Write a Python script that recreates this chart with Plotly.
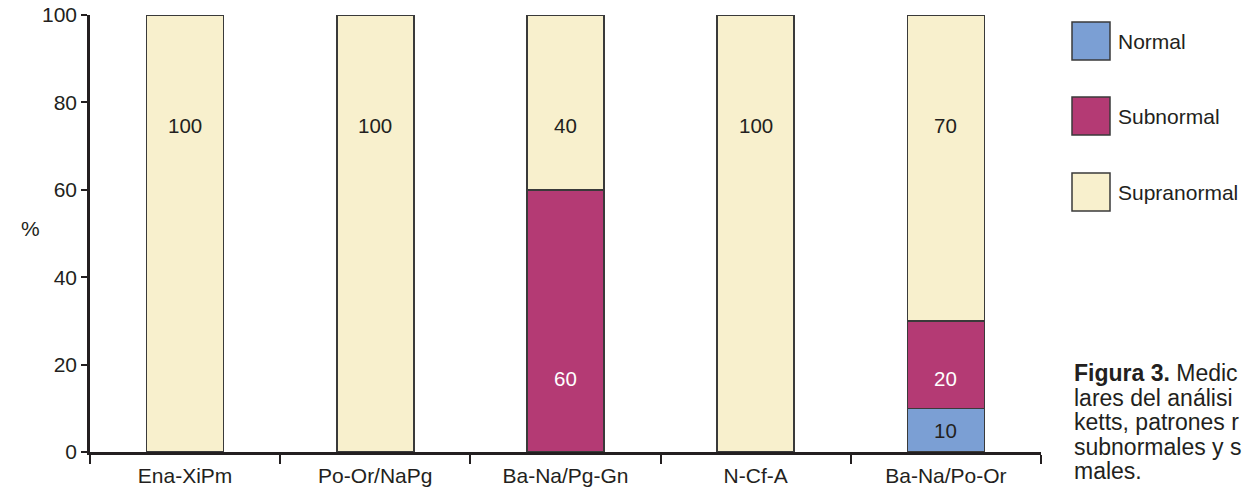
import plotly.graph_objects as go

categories = ["Ena-XiPm", "Po-Or/NaPg", "Ba-Na/Pg-Gn", "N-Cf-A", "Ba-Na/Po-Or"]
normal = [0, 0, 0, 0, 10]
subnormal = [0, 0, 60, 0, 20]
supranormal = [100, 100, 40, 100, 70]
series_names = ["Normal", "Subnormal", "Supranormal"]
y_ticks = [0, 20, 40, 60, 80, 100]
caption_lines = ["<b>Figura 3.</b> Medic", "lares del análisi", "ketts, patrones r",
                 "subnormales y s", "males."]

C_NORMAL = "#7b9fd4"
C_SUB = "#b43a74"
C_SUPRA = "#f8f0cd"
C_LINE = "#3a3a3a"
C_TEXT = "#231f20"
FONT = "Liberation Sans, Arial, sans-serif"

W, H = 1246, 493
L, R, T, B = 90, 205, 15, 41
PW, PH = W - L - R, H - T - B


def px(x):
    return (x - L) / PW


def py(y):
    return (H - B - y) / PH


fig = go.Figure()
for name, vals, col in zip(series_names, [normal, subnormal, supranormal], [C_NORMAL, C_SUB, C_SUPRA]):
    fig.add_trace(go.Bar(
        x=categories, y=[v if v else None for v in vals], name=name,
        marker=dict(color=col, line=dict(color=C_LINE, width=1.5)),
        showlegend=False, hoverinfo="x+y+name",
    ))

annotations = []
for i, c in enumerate(categories):
    if supranormal[i] > 0:
        annotations.append(dict(x=c, y=74.7, text=str(supranormal[i]), showarrow=False,
                                font=dict(size=20.5, color=C_TEXT, family=FONT)))
    if subnormal[i] > 0:
        annotations.append(dict(x=c, y=16.8, text=str(subnormal[i]), showarrow=False,
                                font=dict(size=20.5, color="white", family=FONT)))
    if normal[i] > 0:
        annotations.append(dict(x=c, y=normal[i] / 2, text=str(normal[i]), showarrow=False,
                                font=dict(size=20.5, color=C_TEXT, family=FONT)))

# y-axis title "%"
annotations.append(dict(xref="paper", yref="paper", x=px(19), y=py(228), text="%", showarrow=False,
                        font=dict(size=21, color=C_TEXT, family=FONT)))

# custom legend
shapes = []
leg_y = [41, 116, 192]
for name, col, yc in zip(series_names, [C_NORMAL, C_SUB, C_SUPRA], leg_y):
    shapes.append(dict(type="rect", xref="paper", yref="paper",
                       x0=px(1072), x1=px(1110), y0=py(yc - 19), y1=py(yc + 19),
                       fillcolor=col, line=dict(color=C_LINE, width=1.5)))
    annotations.append(dict(xref="paper", yref="paper", x=px(1116), y=py(yc), text=name,
                            xanchor="left", yanchor="middle", showarrow=False,
                            font=dict(size=21, color=C_TEXT, family=FONT)))

# caption
for k, line in enumerate(caption_lines):
    annotations.append(dict(xref="paper", yref="paper", x=px(1072), y=py(373 + 24.5 * k), text=line,
                            xanchor="left", yanchor="middle", showarrow=False,
                            font=dict(size=23, color=C_TEXT, family=FONT)))

fig.update_layout(
    barmode="stack",
    bargap=0.595,
    width=W, height=H,
    margin=dict(l=L, r=R, t=T, b=B, pad=0, autoexpand=False),
    paper_bgcolor="white", plot_bgcolor="white",
    font=dict(family=FONT, size=21, color=C_TEXT),
    annotations=annotations,
    shapes=shapes,
    xaxis=dict(type="category", tickson="boundaries", ticks="outside", ticklen=9, tickwidth=1.5,
               tickcolor=C_TEXT, showline=True, linecolor=C_TEXT, linewidth=2.5, showgrid=False,
               tickfont=dict(size=21, color=C_TEXT), range=[-0.5, 4.5], automargin=False,
               ticklabelstandoff=3),
    yaxis=dict(range=[0, 100], tickvals=y_ticks, ticks="outside", ticklen=6, tickwidth=1.5,
               tickcolor=C_TEXT, showline=True, linecolor=C_TEXT, linewidth=2.5, showgrid=False,
               zeroline=False, tickfont=dict(size=21, color=C_TEXT), automargin=False),
)

fig.write_html("out.html", config={"displayModeBar": False},
               post_script="document.body.style.margin='0px';document.body.style.overflow='hidden';")
